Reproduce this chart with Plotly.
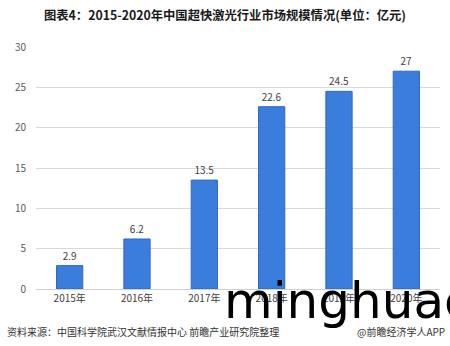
import plotly.graph_objects as go

categories = ["2015年", "2016年", "2017年", "2018年", "2019年", "2020年"]
values = [2.9, 6.2, 13.5, 22.6, 24.5, 27]
value_labels = ["2.9", "6.2", "13.5", "22.6", "24.5", "27"]
y_ticks = [0, 5, 10, 15, 20, 25, 30]

title_text = "图表4：2015-2020年中国超快激光行业市场规模情况(单位：亿元)"
source_text = "资料来源：中国科学院武汉文献情报中心 前瞻产业研究院整理"
brand_text = "@前瞻经济学人APP"
overlay_text = "minghuac"

CJK = "Noto Sans CJK SC, Noto Sans, sans-serif"

W, H = 450, 346
L, R, T, B = 36, 10, 47, 57
PW, PH = W - L - R, H - T - B


def px(x):
    return (x - L) / PW


def py(y):
    return (H - B - y) / PH


fig = go.Figure()
fig.add_trace(go.Bar(
    x=categories,
    y=values,
    text=value_labels,
    textposition="outside",
    textfont=dict(family=CJK, size=10, color="#404040"),
    cliponaxis=False,
    marker=dict(color="#3b7ddd", line=dict(color="#2f69c2", width=1)),
    width=0.39,
))

fig.update_layout(
    width=W, height=H,
    margin=dict(l=L, r=R, t=T, b=B),
    paper_bgcolor="white",
    plot_bgcolor="white",
    showlegend=False,
    xaxis=dict(
        showgrid=False, showline=False, zeroline=False,
        tickfont=dict(family=CJK, size=10, color="#404040"),
        ticks="", ticklabelstandoff=2,
    ),
    yaxis=dict(
        range=[0, 30], tickvals=y_ticks,
        showgrid=True, gridcolor="#d9d9d9", gridwidth=1,
        zeroline=True, zerolinecolor="#d0d0d0", zerolinewidth=1,
        showline=False, ticks="",
        tickfont=dict(family=CJK, size=10, color="#595959"),
        ticklabelstandoff=9,
    ),
    annotations=[
        dict(text="<b>" + title_text + "</b>", x=px(225), y=py(15), xref="paper", yref="paper",
             showarrow=False, font=dict(family=CJK, size=12.3, color="#1a1a1a"),
             xanchor="center", yanchor="middle"),
        dict(text=source_text, x=px(5), y=py(331), xref="paper", yref="paper", showarrow=False,
             font=dict(family=CJK, size=10, color="#333333"),
             xanchor="left", yanchor="middle"),
        dict(text=brand_text, x=px(447), y=py(331), xref="paper", yref="paper", showarrow=False,
             font=dict(family=CJK, size=10, color="#333333"),
             xanchor="right", yanchor="middle"),
        dict(text=overlay_text, x=px(222), y=py(301), xref="paper", yref="paper", showarrow=False,
             font=dict(family="DejaVu Sans", size=50, color="#000000"),
             xanchor="left", yanchor="middle"),
    ],
)

fig.write_html("out.html")
